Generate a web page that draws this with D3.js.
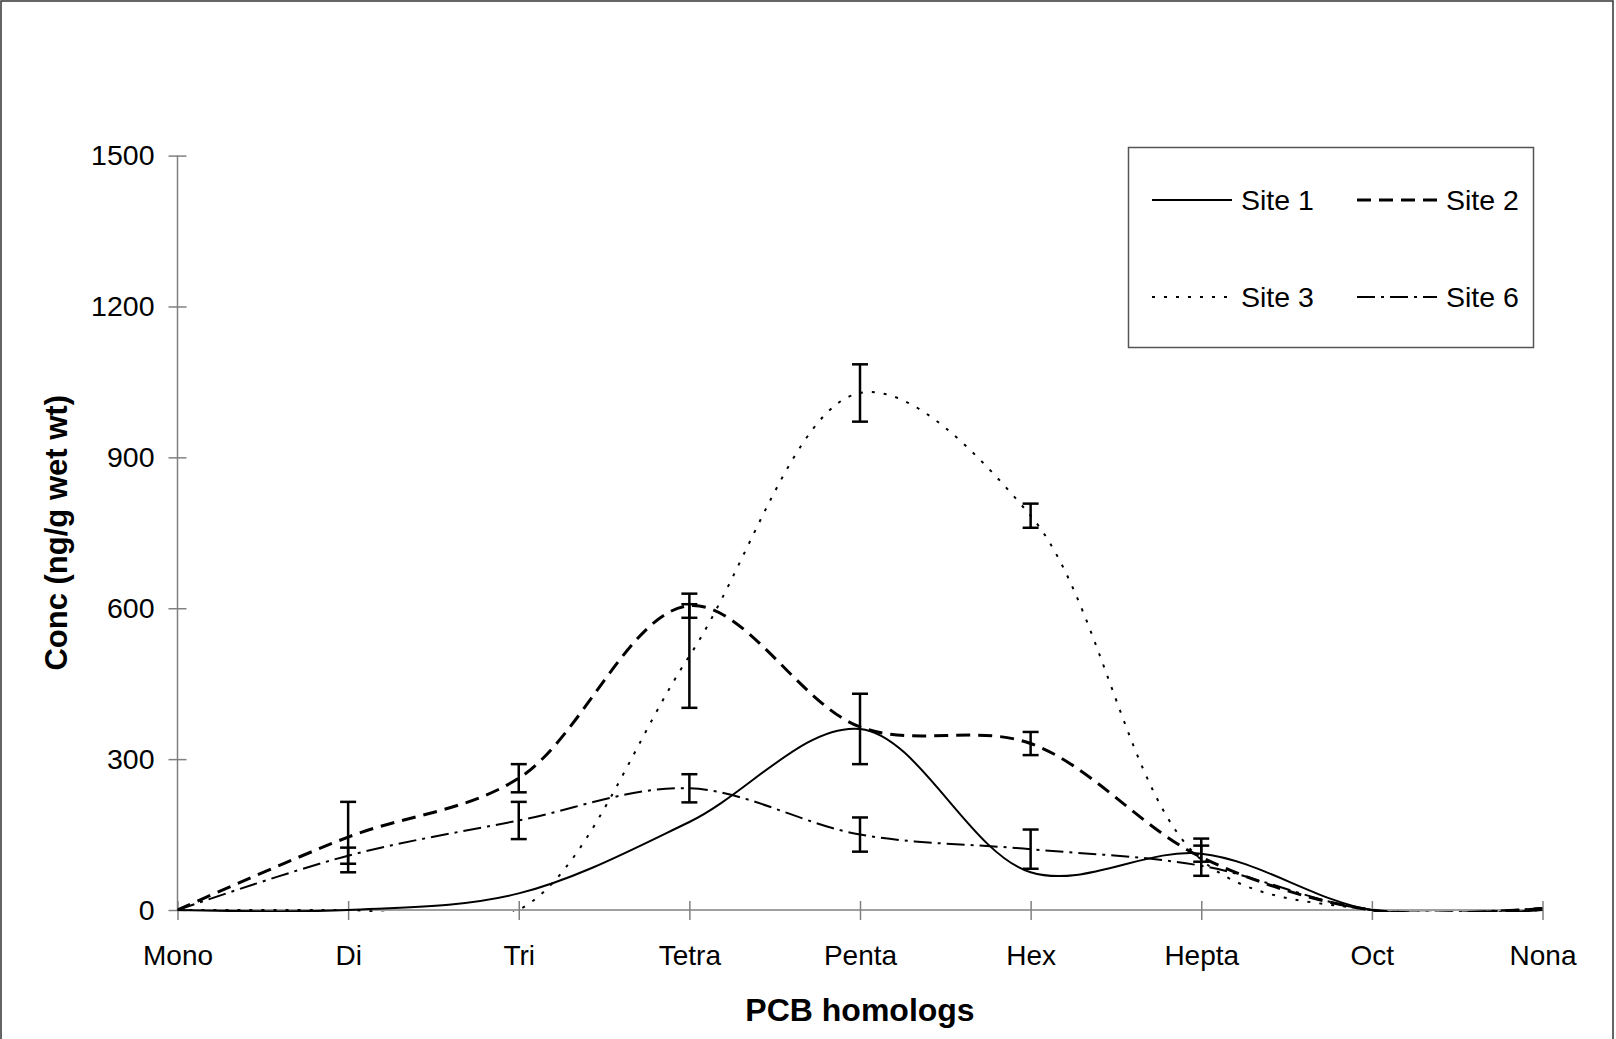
<!DOCTYPE html>
<html>
<head>
<meta charset="utf-8">
<script src="https://cdn.jsdelivr.net/npm/d3@7"></script>
<style>
  html, body { margin: 0; padding: 0; background: #fff; }
  svg { display: block; }
  text { font-family: "Liberation Sans", Arial, sans-serif; fill: #000; }
</style>
</head>
<body>
<svg id="chart" width="1616" height="1039"></svg>
<script>
const categories = ["Mono", "Di", "Tri", "Tetra", "Penta", "Hex", "Hepta", "Oct", "Nona"];
const site1 = [0, 0, 33, 175, 360, 75, 112, 0, 0];
const site2 = [0, 145, 262, 605, 364, 331, 105, 0, 3];
const site3 = [0, 0, 0, 505, 1028, 784, 100, 0, 0];
const site6 = [0, 108, 178, 242, 150, 121, 88, 0, 4];
const site1Err = [null, null, null, null, 70, null, 16, null, null];
const site2Err = [null, 70, 28, 24, null, 23, 37, null, null];
const site3Err = [null, null, null, 103, 57, 24, null, null, null];
const site6Err = [null, 16, 37, 28, 34, 39, null, null, null];
const seriesNames = ["Site 1", "Site 2", "Site 3", "Site 6"];
const yTicks = [0, 300, 600, 900, 1200, 1500];

(function () {
const series = [
  { name: seriesNames[0], values: site1, err: site1Err, dash: null, width: 2 },
  { name: seriesNames[1], values: site2, err: site2Err, dash: "14,8", width: 3 },
  { name: seriesNames[2], values: site3, err: site3Err, dash: "3,9", width: 2 },
  { name: seriesNames[3], values: site6, err: site6Err, dash: "18,6,3,6", width: 2 }
];

const svg = d3.select("#chart");
const pL = 177.5, pR = 1542.5, pT = 155.6, pB = 910;

const x = d3.scalePoint().domain(categories).range([pL, pR]).padding(0);
const y = d3.scaleLinear().domain([0, 1500]).range([pB, pT]);

// outer frame
svg.append("rect").attr("x", 1).attr("y", 1).attr("width", 1612).attr("height", 1100)
  .attr("fill", "none").attr("stroke", "#333").attr("stroke-width", 1.5);

// clip
svg.append("defs").append("clipPath").attr("id", "plotclip")
  .append("rect").attr("x", pL).attr("y", pT - 2).attr("width", pR - pL + 2).attr("height", pB - pT + 4);

// y axis
const yAxis = svg.append("g").attr("transform", `translate(${pL},0)`)
  .call(d3.axisLeft(y).tickValues(yTicks).tickSize(9).tickPadding(14).tickFormat(d3.format("d")));
yAxis.select(".domain").attr("stroke", "#808080").attr("stroke-width", 1.5).attr("d", `M0,${pT}V${pB}`);
yAxis.selectAll(".tick line").attr("x1", -9).attr("x2", 9).attr("stroke", "#808080").attr("stroke-width", 1.5);
yAxis.selectAll(".tick text").attr("font-size", 28.5).attr("font-family", "'Liberation Sans', Arial, sans-serif").attr("fill", "#000");

// x axis
const xAxis = svg.append("g").attr("transform", `translate(0,${pB})`)
  .call(d3.axisBottom(x).tickSize(9).tickSizeOuter(0));
xAxis.select(".domain").attr("stroke", "#808080").attr("stroke-width", 1.5).attr("d", `M${pL},0H${pR}`);
xAxis.selectAll(".tick line").attr("y1", -9).attr("y2", 10).attr("stroke", "#808080").attr("stroke-width", 1.5);
xAxis.selectAll(".tick text").attr("y", 54.5).attr("dy", 0).attr("font-size", 28)
  .attr("font-family", "'Liberation Sans', Arial, sans-serif").attr("fill", "#000");

// axis titles
svg.append("text").attr("x", (pL + pR) / 2).attr("y", 1020.5).attr("text-anchor", "middle")
  .attr("font-size", 32).attr("font-weight", "bold").text("PCB homologs");
svg.append("text").attr("transform", `translate(67,${(pT + pB) / 2}) rotate(-90)`)
  .attr("text-anchor", "middle").attr("font-size", 31).attr("font-weight", "bold").text("Conc (ng/g wet wt)");

// lines
const line = d3.line().x((d, i) => x(categories[i])).y(d => y(d)).curve(d3.curveCatmullRom.alpha(0.5));
const plot = svg.append("g").attr("clip-path", "url(#plotclip)");
series.forEach(s => {
  plot.append("path").attr("d", line(s.values)).attr("fill", "none").attr("stroke", "#000")
    .attr("stroke-width", s.width).attr("stroke-dasharray", s.dash);
});

// error bars
const eb = svg.append("g").attr("stroke", "#000").attr("stroke-width", 2.5);
series.forEach(s => {
  s.values.forEach((v, i) => {
    const e = s.err[i];
    if (e == null) return;
    const cx = x(categories[i]);
    eb.append("line").attr("x1", cx).attr("x2", cx).attr("y1", y(v + e)).attr("y2", y(v - e));
    eb.append("line").attr("x1", cx - 8).attr("x2", cx + 8).attr("y1", y(v + e)).attr("y2", y(v + e));
    eb.append("line").attr("x1", cx - 8).attr("x2", cx + 8).attr("y1", y(v - e)).attr("y2", y(v - e));
  });
});

// legend
const lg = svg.append("g");
lg.append("rect").attr("x", 1128.5).attr("y", 147.5).attr("width", 405).attr("height", 200)
  .attr("fill", "#fff").attr("stroke", "#555").attr("stroke-width", 1.5);
const legendPos = [[1152, 200], [1357, 200], [1152, 297], [1357, 297]];
series.forEach((s, i) => {
  const [lx, ly] = legendPos[i];
  lg.append("line").attr("x1", lx).attr("x2", lx + 80).attr("y1", ly).attr("y2", ly)
    .attr("stroke", "#000").attr("stroke-width", s.width).attr("stroke-dasharray", s.dash);
  lg.append("text").attr("x", lx + 89).attr("y", ly).attr("dy", "0.35em").attr("font-size", 28.5).text(s.name);
});
})();
</script>
</body>
</html>
